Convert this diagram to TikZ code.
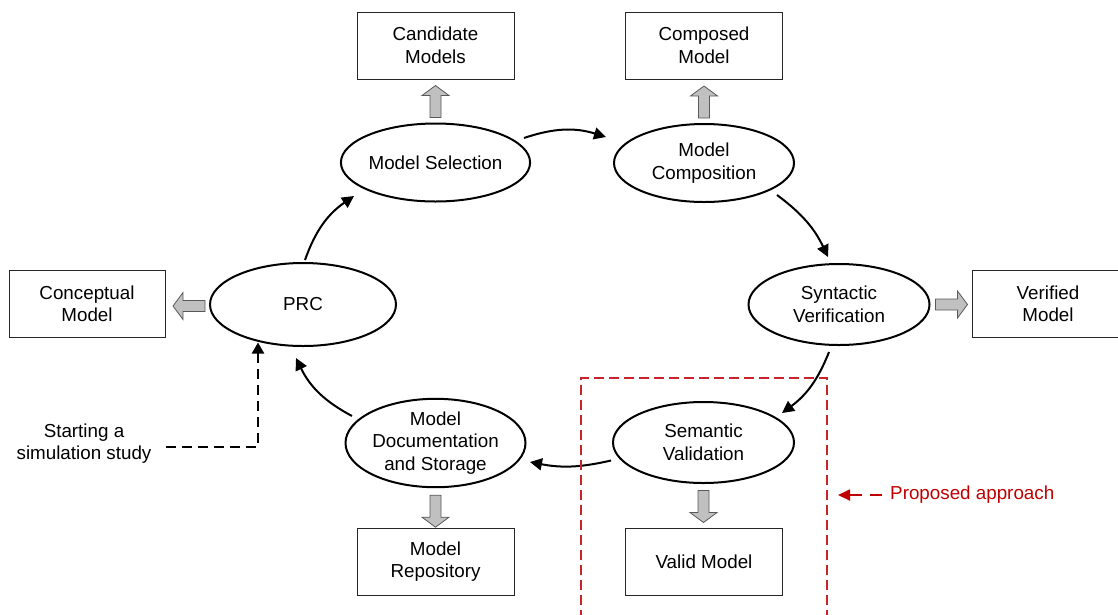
\documentclass[tikz,border=0pt]{standalone}
\usepackage{fontspec}
\setmainfont{Liberation Sans}
\usetikzlibrary{calc,arrows.meta,shapes.geometric}
\definecolor{approachred}{RGB}{192,0,0}
\definecolor{framered}{RGB}{200,36,42}
\definecolor{blockgray}{RGB}{192,192,192}

\tikzset{
  proc/.style={ellipse, draw, line width=2pt, minimum width=180, minimum height=78,
    inner sep=0pt, align=center},
  prod/.style={rectangle, draw=black!85, line width=1pt, minimum width=157,
    minimum height=67, align=center},
  flow/.style={line width=2pt, -{Triangle[length=12pt,width=12pt]}},
  startflow/.style={line width=2.2pt, dash pattern=on 10pt off 6pt,
    -{Triangle[length=11pt,width=12pt]}},
  approachframe/.style={draw=framered, line width=1.3pt, dash pattern=on 10pt off 5pt},
  approacharrow/.style={draw=approachred, line width=1.8pt, dash pattern=on 12pt off 8pt,
    -{Triangle[length=12pt,width=11pt]}},
  blockarrow/.pic={
    \draw[fill=blockgray, draw=black!65, line width=0.8pt]
      (0,-5.5) -- (22,-5.5) -- (22,-13.5) -- (32,0) -- (22,13.5) -- (22,5.5)
      -- (0,5.5) -- cycle;
  }
}

\begin{document}
\begin{tikzpicture}[x=1pt, y=1pt, font=\fontsize{18.8}{22.5}\selectfont]
\useasboundingbox (0,0) rectangle (1118,-614);

% process steps of the cycle
\node[proc] (ms)  at (435.5,-162.5) {Model Selection};
\node[proc] (mc)  at (704,-163)     {Model\\Composition};
\node[proc, minimum width=181, minimum height=81] (sv)  at (839,-304.5) {Syntactic\\Verification};
\node[proc, minimum width=181, minimum height=81] (sem) at (703.5,-442.5) {Semantic\\Validation};
\node[proc] (md)  at (435.5,-443)   {Model\\Documentation\\and Storage};
\node[proc, minimum width=186, minimum height=83] (prc) at (303,-304.5) {PRC};

% products of the steps
\node[prod] (cand)    at (435.5,-45.5) {Candidate\\Models};
\node[prod] (comp)    at (704,-45.5)   {Composed\\Model};
\node[prod, minimum width=156] (concept) at (87,-304) {Conceptual\\Model};
\node[prod, minimum width=152] (verif)   at (1048,-304) {Verified\\Model};
\node[prod] (repo)    at (435.5,-561.5) {Model\\Repository};
\node[prod] (valid)   at (704,-561.5)   {Valid Model};

% step -> product block arrows
\pic[rotate=90]  at ($(ms.north)+(0,5)$)  {blockarrow};
\pic[rotate=90]  at ($(mc.north)+(0,5)$)  {blockarrow};
\pic[rotate=180] at ($(prc.west)+(-4,-1.5)$) {blockarrow};
\pic             at ($(sv.east)+(5,0)$)   {blockarrow};
\pic[rotate=-90] at ($(md.south)+(0,-7)$) {blockarrow};
\pic[rotate=-90] at ($(sem.south)+(0,-6.5)$) {blockarrow};

% cycle connectors
\draw[flow] ($(ms)+(88.5,24.5)$)   to[bend left=18] ($(mc)+(-98,26)$);
\draw[flow] ($(mc)+(73,-32)$)      to[bend left=14] ($(sv)+(-11,47.5)$);
\draw[flow] ($(sv)+(-10,-47.5)$)   to[bend left=16] ($(sem)+(78.5,29.5)$);
\draw[flow] ($(sem)+(-92.5,-18)$)  to[bend left=12] ($(md)+(94.5,-19)$);
\draw[flow] ($(md)+(-83.5,27)$)    to[bend left=18] ($(prc)+(-7,-53.5)$);
\draw[flow] ($(prc)+(2,44.5)$)     to[bend left=18] ($(ms)+(-81.5,-33.5)$);

% entry point of a study
\node[align=center] (start) at (84,-443.5) {Starting a\\simulation study};
\draw[startflow] ($(start.east)+(11,-3.5)$) -| ($(prc)+(-45,-38)$);

% proposed approach frame and label
\draw[approachframe] (581,-620) -- (581,-378) -- (827,-378) -- (827,-620);
\node[text=approachred, anchor=west, inner sep=0pt] (prop) at (890,-495) {Proposed approach};
\coordinate (frametip) at (838,-495);
\draw[approacharrow] ($(prop.west)+(-8,0)$) -- (frametip);
\end{tikzpicture}
\end{document}
